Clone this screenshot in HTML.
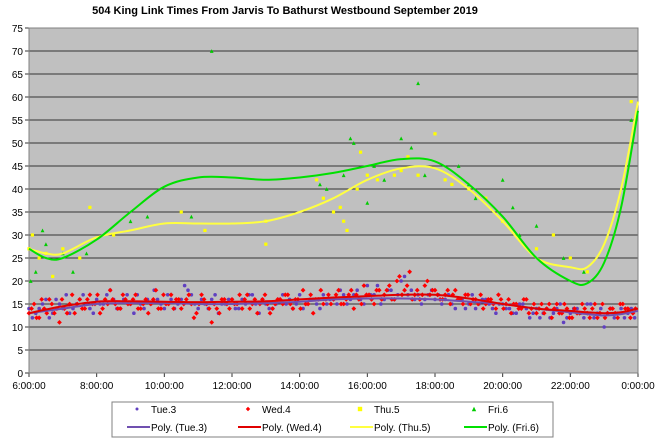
<!DOCTYPE html>
<html><head><meta charset="utf-8">
<style>
html,body{margin:0;padding:0;background:#fff;}
svg{display:block;font-family:"Liberation Sans",Arial,sans-serif;}
</style></head>
<body>
<svg id="chart" width="660" height="443" viewBox="0 0 660 443">
<text x="285" y="14" text-anchor="middle" font-size="11" font-weight="bold">504 King Link Times From Jarvis To Bathurst Westbound September 2019</text>
<rect x="29" y="28" width="609" height="345" fill="#c0c0c0"/>
<g id="grid"></g><g id="axes"></g><g id="marks"></g>
<g>
<rect x="112" y="402" width="441" height="35" fill="#fff" stroke="#808080"/>
<g id="legend"></g>
</g>
</svg>
<script>
const yTicks=[0,5,10,15,20,25,30,35,40,45,50,55,60,65,70,75];
const xTickHours=[6,8,10,12,14,16,18,20,22,24];
const xTickLabels=["6:00:00","8:00:00","10:00:00","12:00:00","14:00:00","16:00:00","18:00:00","20:00:00","22:00:00","0:00:00"];
const tueStart=6, tueStep=0.2;
const tueValues=[14,13,15,12,16,14,13,15,17,14,16,15,18,14,16,15,17,14,15,16,14,16,15,19,17,14,15,16,13,15,16,14,15,17,13,15,14,16,15,14,17,15,16,14,15,16,18,15,17,16,19,17,15,18,16,20,17,16,15,17,16,15,17,14,16,15,14,16,15,13,15,14,13,15,12,14,13,12,14,11,13,14,12,15,13,10,14,13,12,14];
const tueStartB=6.1;
const tueValuesB=[12,14,16,13,15,17,14,16,15,13,15,17,16,14,17,13,15,16,18,15,17,14,16,18,15,16,14,17,15,16,14,16,17,15,16,14,15,17,16,15,14,16,15,17,16,15,17,16,18,15,17,19,16,18,17,21,18,17,16,18,17,16,15,16,14,17,15,16,14,15,14,13,15,14,13,12,14,13,15,12,14,13,15,12,14,13,12,14,13,12];
const wedStart=6, wedStep=0.15;
const wedValues=[13,15,12,14,16,13,11,14,15,13,16,14,17,15,13,16,18,15,14,16,15,17,14,16,15,18,14,15,17,16,14,16,15,13,17,15,11,14,16,15,16,15,14,17,15,13,16,15,14,16,15,17,14,16,18,15,13,16,15,17,16,18,15,17,14,16,19,17,15,18,17,19,16,21,18,22,17,16,19,17,18,16,17,15,18,16,17,15,16,17,15,16,14,16,15,13,15,14,16,14,13,15,14,12,15,13,14,12,13,15,13,14,12,15,13,14,12,15,14,13];
const wedStartB=6.075;
const wedValuesB=[14,12,16,13,15,14,16,13,17,15,14,16,15,17,14,15,16,14,17,15,16,14,15,13,16,14,17,15,14,16,15,17,12,15,16,14,15,13,16,14,15,17,16,14,16,15,17,13,15,16,17,15,16,14,15,17,16,18,16,15,17,15,16,18,17,15,17,16,18,16,18,16,20,17,19,16,18,17,20,18,17,16,18,17,16,15,17,16,15,14,16,15,17,14,16,15,14,16,13,15,14,13,15,14,13,15,12,14,13,14,12,15,13,12,14,13,15,14,12,14];
const thuTimes=[6.0,6.1,6.3,6.5,6.7,7.0,7.5,7.8,8.5,10.5,11.2,13,13,14.5,14.7,15,15.2,15.3,15.4,15.7,15.8,16,16.3,16.8,17,17.2,17.5,18,18.3,18.5,19,19.5,20,20.5,21,21.5,22,22.5,23.8];
const thuValues=[27,30,25,26,21,27,25,36,30,35,31,33,28,42,38,35,36,33,31,40,48,43,42,43,44,47,43,52,42,41,40,38,33,29,27,30,25,22,59];
const friTimes=[6.05,6.2,6.4,6.5,7,7.3,7.7,9,9.5,10.8,11.4,14.6,14.8,15.3,15.5,15.6,16,16.2,16.5,17,17.3,17.5,17.7,18.7,19,19.2,20,20.3,20.5,21,21.8,22.4,23.8];
const friValues=[20,22,31,28,26,22,26,33,34,34,70,41,40,43,51,50,37,45,42,51,49,63,43,45,41,38,42,36,30,32,25,22,55];
const trendHours=[6,6.5,7,8,9,10,11,12,13,14,15,16,17,18,19,20,21,22,22.5,23,23.5,24];
const tueTrend=[13,13.5,14,15,15.2,15.2,15,15,15.2,15.5,16,16.2,16.2,16,15.5,15,14,13.2,12.8,12.5,12.8,13.5];
const wedTrend=[13,13.8,14.5,15.5,15.6,15.5,15.4,15.5,15.6,16,16.4,16.7,17,17,16.2,15,14,13.5,13.2,13,13.2,14];
const thuTrend=[27,26,26,29.5,31,32.5,32.5,32.5,33,35,38,42,44.5,44.5,40,33,25,23,23,28,40,59];
const friTrend=[27,25,25,29,35,40.5,42.5,42.5,42,42.5,43.5,45,46.5,46,41,34,25,20,19.5,24,36,57];

const NS="http://www.w3.org/2000/svg";
const X0=29,X1=638,Y0=373,Y1=28;
const xs=h=>X0+(h-6)/18*(X1-X0);
const ys=v=>Y0-v/75*(Y0-Y1);
function mk(tag,attrs,parent){const e=document.createElementNS(NS,tag);for(const k in attrs)e.setAttribute(k,attrs[k]);parent.appendChild(e);return e;}
const grid=document.getElementById('grid'),axes=document.getElementById('axes'),marks=document.getElementById('marks'),legend=document.getElementById('legend');
yTicks.forEach(v=>{
 if(v>0){const l=mk('line',{x1:X0,x2:X1,y1:ys(v),y2:ys(v),stroke:'#333','stroke-width':1},grid);
 
 }
 mk('line',{x1:X0-4,x2:X0,y1:ys(v),y2:ys(v),stroke:'#333'},axes);
 const t=mk('text',{x:X0-6,y:ys(v)+4,'text-anchor':'end','font-size':10},axes);t.textContent=v;
 
 
});
xTickHours.forEach((h,i)=>{
 mk('line',{x1:xs(h),x2:xs(h),y1:Y0,y2:Y0+4,stroke:'#333'},axes);
 const t=mk('text',{x:xs(h),y:Y0+16,'text-anchor':'middle','font-size':10},axes);t.textContent=xTickLabels[i];
 
 
});
mk('line',{x1:X0,x2:X0,y1:Y1,y2:Y0,stroke:'#333'},axes);
mk('line',{x1:X0,x2:X1,y1:Y0,y2:Y0,stroke:'#333'},axes);
mk('rect',{x:X0,y:Y1,width:X1-X0,height:Y0-Y1,fill:'none',stroke:'#808080'},axes);

function dot(g,x,y,shape,color,size){
 let e;
 if(shape==='circle')e=mk('circle',{cx:x,cy:y,r:size,fill:color},g);
 else if(shape==='diamond')e=mk('polygon',{points:`${x},${y-size} ${x+size},${y} ${x},${y+size} ${x-size},${y}`,fill:color},g);
 else if(shape==='square')e=mk('rect',{x:x-size,y:y-size,width:2*size,height:2*size,fill:color},g);
 else e=mk('polygon',{points:`${x},${y-size} ${x+size},${y+size} ${x-size},${y+size}`,fill:color},g);
 return e;
}
function curvePath(hs,vs){
 const p=hs.map((h,i)=>[xs(h),ys(vs[i])]);
 let d=`M${p[0][0]},${p[0][1]}`;
 for(let i=0;i<p.length-1;i++){
  const p0=p[Math.max(0,i-1)],p1=p[i],p2=p[i+1],p3=p[Math.min(p.length-1,i+2)];
  const c1=[p1[0]+(p2[0]-p0[0])/6,p1[1]+(p2[1]-p0[1])/6];
  const c2=[p2[0]-(p3[0]-p1[0])/6,p2[1]-(p3[1]-p1[1])/6];
  d+=` C${c1[0]},${c1[1]} ${c2[0]},${c2[1]} ${p2[0]},${p2[1]}`;
 }
 return d;
}
const gTue=mk('g',{},marks);


tueValues.forEach((v,i)=>{const e=dot(gTue,xs(tueStart+i*tueStep),ys(v),'circle','#6040c0',1.8);
 
 });
tueValuesB.forEach((v,i)=>{const e=dot(gTue,xs(tueStartB+i*tueStep),ys(v),'circle','#6040c0',1.8);
 
 });
const gWed=mk('g',{},marks);


wedValues.forEach((v,i)=>{const e=dot(gWed,xs(wedStart+i*wedStep),ys(v),'diamond','#ff0000',2.4);
 
 });
wedValuesB.forEach((v,i)=>{const e=dot(gWed,xs(wedStartB+i*wedStep),ys(v),'diamond','#ff0000',2.4);
 
 });
const gThu=mk('g',{},marks);


thuValues.forEach((v,i)=>{const e=dot(gThu,xs(thuTimes[i]),ys(v),'square','#ffff00',1.6);
 
 });
const gFri=mk('g',{},marks);


friValues.forEach((v,i)=>{const e=dot(gFri,xs(friTimes[i]),ys(v),'tri','#00cc00',1.9);
 
 });
const trends=[[tueTrend,'#7050b0','trend-tue-3'],[wedTrend,'#e00000','trend-wed-4'],[thuTrend,'#ffff40','trend-thu-5'],[friTrend,'#00e000','trend-fri-6']];
trends.forEach(([vals,col,name])=>{
 const p=mk('path',{d:curvePath(trendHours,vals),fill:'none',stroke:col,'stroke-width':2},marks);
 
 
});
const legendItems=[["Tue.3","circle","#6040c0","Poly. (Tue.3)","#7050b0"],["Wed.4","diamond","#ff0000","Poly. (Wed.4)","#e00000"],["Thu.5","square","#ffff00","Poly. (Thu.5)","#ffff40"],["Fri.6","tri","#00cc00","Poly. (Fri.6)","#00e000"]];
const colX=[129,240,352,466];
legendItems.forEach((it,i)=>{
 const x=colX[i];
 const g1=mk('g',{},legend);
 
 
 dot(g1,x+8,409,it[1],it[2],it[1]==='circle'?1.5:2.2);
 const t1=mk('text',{x:x+22,y:413,'font-size':10},g1);t1.textContent=it[0];
 const g2=mk('g',{},legend);
 
 
 mk('line',{x1:x-2,x2:x+21,y1:427,y2:427,stroke:it[4],'stroke-width':2},g2);
 const t2=mk('text',{x:x+22,y:431,'font-size':10},g2);t2.textContent=it[3];
});
</script>
</body></html>
